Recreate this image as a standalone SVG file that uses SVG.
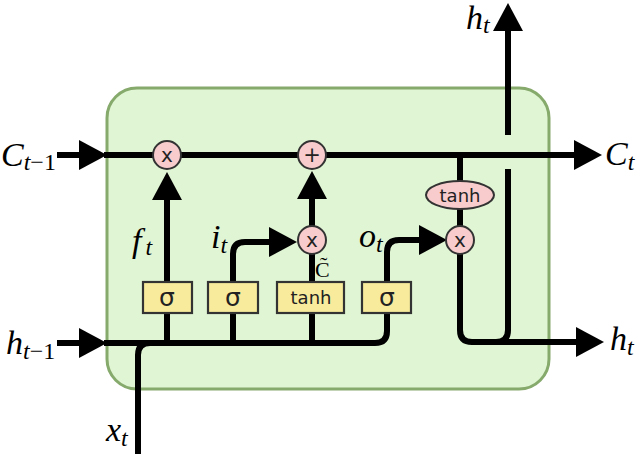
<svg xmlns="http://www.w3.org/2000/svg" width="640" height="454" viewBox="0 0 640 454">
<defs>
<style>
.wire{fill:none;stroke:#000;stroke-width:6}
.gate{fill:#f8eb9c;stroke:#333;stroke-width:2.2}
.op{fill:#f8cccc;stroke:#333;stroke-width:2}
.gt{font-family:"DejaVu Sans",sans-serif;fill:#222;text-anchor:middle}
.lbl{font-family:"Liberation Serif",serif;font-style:italic;fill:#000;font-size:34px}
.sub{font-size:24px}
</style>
<marker id="ah" markerUnits="userSpaceOnUse" viewBox="0 0 28 30" refX="1" refY="15" markerWidth="28" markerHeight="30" orient="auto">
<path d="M0,0 L28,15 L0,30 z" fill="#000"/>
</marker>
</defs>
<g id="cell">
<rect x="107" y="88" width="442" height="301" rx="30" ry="30" fill="#e0f5d3" stroke="#86a96c" stroke-width="3"/>
</g>
<g id="connectors">
<path class="wire" d="M57,155 H80" marker-end="url(#ah)"/>
<path class="wire" d="M104,155 H575" marker-end="url(#ah)"/>
<path class="wire" d="M167,282 V199" marker-end="url(#ah)"/>
<path class="wire" d="M233,282 V254 Q233,242 245,242 H270" marker-end="url(#ah)"/>
<path class="wire" d="M312,282 V254"/>
<path class="wire" d="M312,226 V198" marker-end="url(#ah)"/>
<path class="wire" d="M387,282 V252 Q387,240 399,240 H420" marker-end="url(#ah)"/>
<path class="wire" d="M460,155 V226"/>
<path class="wire" d="M460,254 V330 Q460,342 472,342 H577" marker-end="url(#ah)"/>
<path class="wire" d="M508,135 V30" marker-end="url(#ah)"/>
<path class="wire" d="M508,169 V330 Q508,342 496,342"/>
<path class="wire" d="M57,343 H80" marker-end="url(#ah)"/>
<path class="wire" d="M104,343 H375 Q387,343 387,331 V314"/>
<path class="wire" d="M167,343 V313"/>
<path class="wire" d="M233,343 V313"/>
<path class="wire" d="M312,343 V313"/>
<path class="wire" d="M138,454 V355 Q138,343 150,343"/>
</g>
<g id="forget-mul"><circle class="op" cx="167" cy="155" r="14"/><text class="gt" x="167" y="162" font-size="20">x</text></g>
<g id="add"><circle class="op" cx="312" cy="155" r="14"/><text class="gt" x="312" y="162" font-size="21">+</text></g>
<g id="input-mul"><circle class="op" cx="312" cy="240" r="14"/><text class="gt" x="312" y="247" font-size="20">x</text></g>
<g id="output-mul"><circle class="op" cx="460" cy="240" r="14"/><text class="gt" x="460" y="247" font-size="20">x</text></g>
<g id="tanh-out"><ellipse class="op" cx="460" cy="195" rx="34" ry="14"/><text class="gt" x="460" y="202" font-size="18">tanh</text></g>
<g id="forget-gate"><rect class="gate" x="143" y="282" width="49" height="31"/><text class="gt" x="167" y="306" font-size="25">σ</text></g>
<g id="input-gate"><rect class="gate" x="208" y="282" width="50" height="31"/><text class="gt" x="233" y="306" font-size="25">σ</text></g>
<g id="candidate"><rect class="gate" x="277" y="282" width="67" height="31"/><text class="gt" x="311" y="304" font-size="18">tanh</text></g>
<g id="output-gate"><rect class="gate" x="362" y="282" width="49" height="31"/><text class="gt" x="387" y="306" font-size="25">σ</text></g>
<g id="labels">
<text class="lbl" x="1" y="166" font-style="normal">C<tspan class="sub" font-style="italic" dy="4">t</tspan><tspan class="sub" font-style="normal">−1</tspan></text>
<text class="lbl" x="6" y="354">h<tspan class="sub" dy="5">t</tspan><tspan class="sub" font-style="normal">−1</tspan></text>
<text class="lbl" x="106" y="441">x<tspan class="sub" dy="5">t</tspan></text>
<text class="lbl" x="132" y="252">f<tspan class="sub" dx="4" dy="3">t</tspan></text>
<text class="lbl" x="211" y="248">i<tspan class="sub" dy="5">t</tspan></text>
<text class="lbl" x="359" y="247">o<tspan class="sub" dy="5">t</tspan></text>
<text x="315" y="277" font-family="Liberation Serif,serif" font-size="22">C̃</text>
<text class="lbl" x="466" y="29">h<tspan class="sub" dy="4">t</tspan></text>
<text class="lbl" x="605" y="165">C<tspan class="sub" dy="5">t</tspan></text>
<text class="lbl" x="610" y="350">h<tspan class="sub" dy="5">t</tspan></text>
</g>
</svg>
